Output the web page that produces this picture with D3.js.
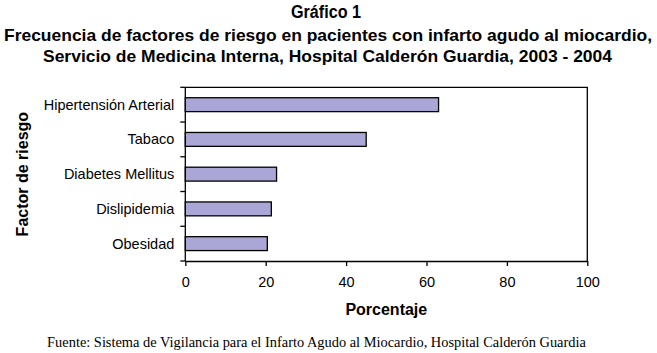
<!DOCTYPE html>
<html>
<head>
<meta charset="utf-8">
<script src="https://cdn.jsdelivr.net/npm/d3@7"></script>
<style>
  body { margin: 0; background: #fff; }
  svg { display: block; }
</style>
</head>
<body>
<svg id="chart" width="657" height="353"></svg>
<script>
// data
const categories = ["Hipertensión Arterial", "Tabaco", "Diabetes Mellitus", "Dislipidemia", "Obesidad"];
const porcentajes = [63, 45, 22.7, 21.4, 20.4];
const xTicks = [0, 20, 40, 60, 80, 100];

const titleLines = [
    "Gráfico 1",
    "Frecuencia de factores de riesgo en pacientes con infarto agudo al miocardio,",
    "Servicio de Medicina Interna, Hospital Calderón Guardia, 2003 - 2004"
];
const fuente = "Fuente: Sistema de Vigilancia para el Infarto Agudo al Miocardio, Hospital Calderón Guardia";

const svg = d3.select("#chart");
const sans = "'Liberation Sans', Arial, Helvetica, sans-serif";

const plot = { left: 185.3, right: 587.3, top: 87.3, bottom: 261 };

const x = d3.scaleLinear().domain([0, 100]).range([plot.left, plot.right]);
const y = d3.scaleBand().domain(categories).range([plot.top, plot.bottom]).paddingInner(0.6).paddingOuter(0.3);

// title, squeezed to the condensed width of the original
const titlePos = [
    { cx: 326, y: 18, w: 70, size: 17.5 },
    { cx: 328, y: 40.5, w: 648, size: 16.5 },
    { cx: 327.5, y: 61.5, w: 569, size: 16.5 }
];
svg.selectAll("text.title")
    .data(titleLines)
    .join("text")
    .attr("class", "title")
    .attr("x", (d, i) => titlePos[i].cx)
    .attr("y", (d, i) => titlePos[i].y)
    .attr("text-anchor", "middle")
    .attr("textLength", (d, i) => titlePos[i].w)
    .attr("lengthAdjust", "spacingAndGlyphs")
    .style("font-family", sans)
    .style("font-weight", "bold")
    .style("font-size", (d, i) => titlePos[i].size + "px")
    .text(d => d);

// plot frame (top and right)
svg.append("path")
    .attr("d", `M${plot.left},${plot.top}H${plot.right}V${plot.bottom}`)
    .attr("fill", "none")
    .attr("stroke", "#000")
    .attr("stroke-width", 1.3);

// bars
svg.selectAll("rect.bar")
    .data(categories)
    .join("rect")
    .attr("class", "bar")
    .attr("x", x(0))
    .attr("y", d => y(d))
    .attr("width", (d, i) => x(porcentajes[i]) - x(0))
    .attr("height", y.bandwidth())
    .attr("fill", "#aaa6d6")
    .attr("stroke", "#000")
    .attr("stroke-width", 1.3);

// x axis
const xAxis = svg.append("g")
    .attr("transform", `translate(0,${plot.bottom})`)
    .call(d3.axisBottom(x).tickValues(xTicks).tickSize(5).tickPadding(11).tickSizeOuter(0));
xAxis.select(".domain").attr("stroke-width", 1.3);
xAxis.selectAll(".tick line").attr("stroke-width", 1.3);
xAxis.selectAll("text").style("font-family", sans).style("font-size", "14.5px").attr("fill", "#000");

// y axis: ticks sit between categories
const yAxis = svg.append("g").attr("transform", `translate(${plot.left},0)`);
yAxis.append("line")
    .attr("y1", plot.top).attr("y2", plot.bottom)
    .attr("stroke", "#000").attr("stroke-width", 1.3);
const step = (plot.bottom - plot.top) / categories.length;
yAxis.selectAll("line.tk")
    .data(d3.range(categories.length + 1))
    .join("line")
    .attr("class", "tk")
    .attr("x1", -5).attr("x2", 0)
    .attr("y1", i => plot.top + i * step)
    .attr("y2", i => plot.top + i * step)
    .attr("stroke", "#000").attr("stroke-width", 1.3);
yAxis.selectAll("text")
    .data(categories)
    .join("text")
    .attr("x", -11)
    .attr("y", d => y(d) + y.bandwidth() / 2)
    .attr("dy", "0.35em")
    .attr("text-anchor", "end")
    .style("font-family", sans)
    .style("font-size", "14.5px")
    .text(d => d);

// axis titles
svg.append("text")
    .attr("x", x(50))
    .attr("y", 315)
    .attr("text-anchor", "middle")
    .style("font-family", sans)
    .style("font-weight", "bold")
    .style("font-size", "16px")
    .text("Porcentaje");

svg.append("text")
    .attr("transform", `translate(28,${(plot.top + plot.bottom) / 2}) rotate(-90)`)
    .attr("text-anchor", "middle")
    .style("font-family", sans)
    .style("font-weight", "bold")
    .style("font-size", "16px")
    .text("Factor de riesgo");

// source note
svg.append("text")
    .attr("x", 316.5)
    .attr("y", 347)
    .attr("text-anchor", "middle")
    .style("font-family", "'Liberation Serif', 'Times New Roman', serif")
    .style("font-size", "14.4px")
    .text(fuente);
</script>
</body>
</html>
